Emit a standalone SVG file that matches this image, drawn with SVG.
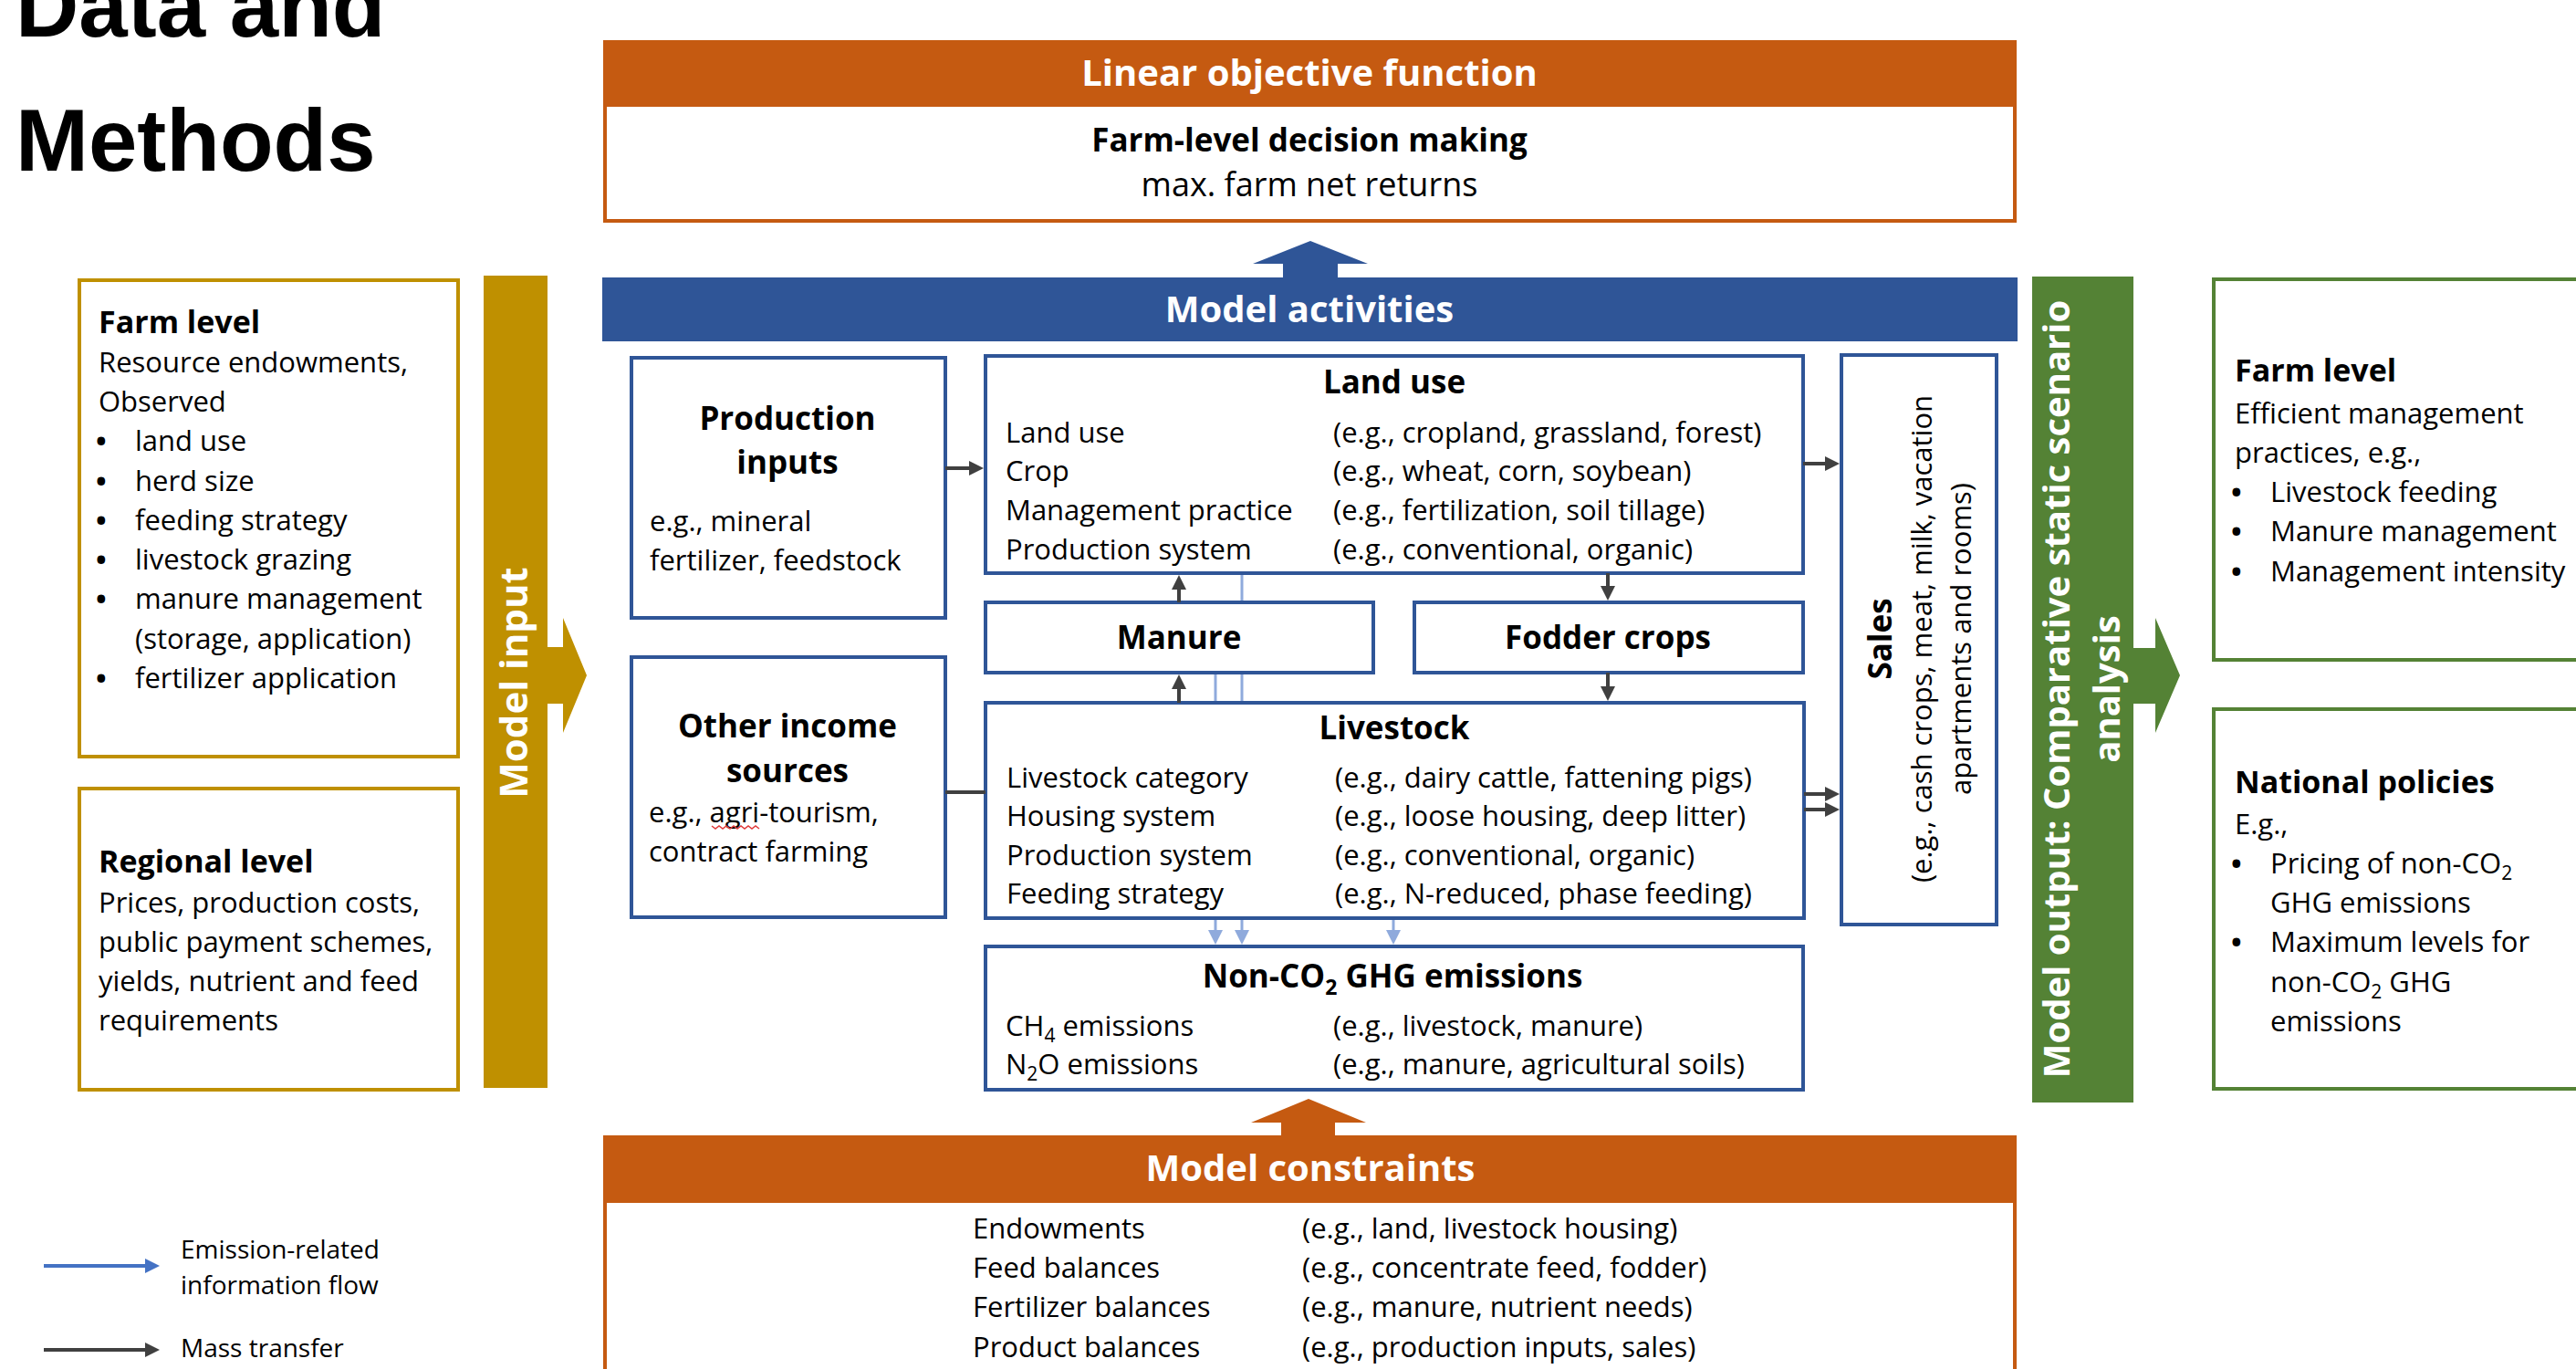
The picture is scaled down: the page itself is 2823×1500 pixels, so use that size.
<svg xmlns="http://www.w3.org/2000/svg" width="2823" height="1500" viewBox="0 0 2823 1500">
<defs>
<style>
text{font-family:"Open Sans","DejaVu Sans",sans-serif;fill:#000;font-size:31px}
.h{font-weight:bold;font-size:35px}
.fh{font-weight:bold;font-size:34px}
.bar{font-weight:bold;font-size:40px;fill:#fff}
.c{text-anchor:middle}
.title{font-family:"Liberation Sans",Arial,sans-serif;font-weight:bold;font-size:96px}
.leg{font-size:28px}
.bu{font-size:31px;font-weight:bold}
.bb{fill:#fff;stroke:#2F5597;stroke-width:4}
.gb{fill:#fff;stroke:#BF9000;stroke-width:4}
.grb{fill:#fff;stroke:#548235;stroke-width:4}
.ob{fill:#fff;stroke:#C55A11;stroke-width:4}
.mass{stroke:#404040;stroke-width:4;fill:none}
.emis{stroke:#8FAADC;stroke-width:3;fill:none}
</style>
<marker id="ah" viewBox="0 0 10 10" refX="5" refY="5" markerWidth="16" markerHeight="18" markerUnits="userSpaceOnUse" orient="auto"><path d="M0,0 L10,5 L0,10 z" fill="#404040"/></marker>
<marker id="eh" viewBox="0 0 10 10" refX="5" refY="5" markerWidth="16" markerHeight="16" markerUnits="userSpaceOnUse" orient="auto"><path d="M0,0 L10,5 L0,10 z" fill="#8FAADC"/></marker>
<marker id="lh" viewBox="0 0 10 10" refX="5" refY="5" markerWidth="16" markerHeight="18" markerUnits="userSpaceOnUse" orient="auto"><path d="M0,0 L10,5 L0,10 z" fill="#4472C4"/></marker>
</defs>
<rect width="2823" height="1500" fill="#fff"/>

<g id="title">
<text class="title" x="17" y="40">Data and</text>
<text class="title" x="17" y="187">Methods</text>
</g>

<g id="farm-level-input">
<rect class="gb" x="87" y="307" width="415" height="522"/>
<text class="fh" x="108" y="365">Farm level</text>
<text x="108" y="408">Resource endowments,</text>
<text x="108" y="451">Observed</text>
<text class="bu" x="105" y="494">•</text><text x="148" y="494">land use</text>
<text class="bu" x="105" y="538">•</text><text x="148" y="538">herd size</text>
<text class="bu" x="105" y="581">•</text><text x="148" y="581">feeding strategy</text>
<text class="bu" x="105" y="624">•</text><text x="148" y="624">livestock grazing</text>
<text class="bu" x="105" y="667">•</text><text x="148" y="667">manure management</text>
<text x="148" y="711">(storage, application)</text>
<text class="bu" x="105" y="754">•</text><text x="148" y="754">fertilizer application</text>
</g>

<g id="regional-level-input">
<rect class="gb" x="87" y="864" width="415" height="330"/>
<text class="fh" x="108" y="956">Regional level</text>
<text x="108" y="1000">Prices, production costs,</text>
<text x="108" y="1043">public payment schemes,</text>
<text x="108" y="1086">yields, nutrient and feed</text>
<text x="108" y="1129">requirements</text>
</g>

<g id="model-input">
<rect x="530" y="302" width="70" height="890" fill="#BF9000"/>
<polygon points="599,709 617,709 617,677 643,740 617,803 617,771 599,771" fill="#BF9000"/>
<text class="bar c" transform="rotate(-90 578 748)" x="578" y="748" style="font-size:42px">Model input</text>
</g>

<g id="objective">
<rect x="661" y="44" width="1549" height="71" fill="#C55A11"/>
<rect class="ob" x="663" y="115" width="1545" height="127"/>
<text class="bar c" x="1435" y="94">Linear objective function</text>
<text class="h c" x="1435" y="166">Farm-level decision making</text>
<text class="c" x="1435" y="215" style="font-size:36px">max. farm net returns</text>
</g>

<g id="model-activities">
<polygon points="1406,306 1406,289 1373,289 1436,264 1499,289 1466,289 1466,306" fill="#2F5597"/>
<rect x="660" y="304" width="1551" height="70" fill="#2F5597"/>
<text class="bar c" x="1435" y="353">Model activities</text>
</g>

<g id="production-inputs">
<rect class="bb" x="692" y="392" width="344" height="285"/>
<text class="h c" x="863" y="471">Production</text>
<text class="h c" x="863" y="519">inputs</text>
<text x="712" y="582">e.g., mineral</text>
<text x="712" y="625">fertilizer, feedstock</text>
</g>

<g id="other-income">
<rect class="bb" x="692" y="720" width="344" height="285"/>
<text class="h c" x="863" y="808">Other income</text>
<text class="h c" x="863" y="857">sources</text>
<text x="711" y="901">e.g., agri-tourism,</text>
<text x="711" y="944">contract farming</text>
<path d="M780,905 l4,3 l4,-3 l4,3 l4,-3 l4,3 l4,-3 l4,3 l4,-3 l4,3 l4,-3 l4,3 l4,-3 l4,3" fill="none" stroke="#E03A3A" stroke-width="1.5"/>
</g>

<g id="land-use">
<rect class="bb" x="1080" y="390" width="896" height="238"/>
<text class="h c" x="1528" y="431">Land use</text>
<text x="1102" y="485">Land use</text><text x="1461" y="485">(e.g., cropland, grassland, forest)</text>
<text x="1102" y="527">Crop</text><text x="1461" y="527">(e.g., wheat, corn, soybean)</text>
<text x="1102" y="570">Management practice</text><text x="1461" y="570">(e.g., fertilization, soil tillage)</text>
<text x="1102" y="613">Production system</text><text x="1461" y="613">(e.g., conventional, organic)</text>
</g>

<g id="manure">
<rect class="bb" x="1080" y="660" width="425" height="77"/>
<text class="h c" x="1292" y="711">Manure</text>
</g>

<g id="fodder-crops">
<rect class="bb" x="1550" y="660" width="426" height="77"/>
<text class="h c" x="1762" y="711">Fodder crops</text>
</g>

<g id="livestock">
<rect class="bb" x="1080" y="770" width="897" height="236"/>
<text class="h c" x="1528" y="810">Livestock</text>
<text x="1103" y="863">Livestock category</text><text x="1463" y="863">(e.g., dairy cattle, fattening pigs)</text>
<text x="1103" y="905">Housing system</text><text x="1463" y="905">(e.g., loose housing, deep litter)</text>
<text x="1103" y="948">Production system</text><text x="1463" y="948">(e.g., conventional, organic)</text>
<text x="1103" y="990">Feeding strategy</text><text x="1463" y="990">(e.g., N-reduced, phase feeding)</text>
</g>

<g id="emissions">
<rect class="bb" x="1080" y="1037" width="896" height="157"/>
<text class="h c" x="1526" y="1082">Non-CO<tspan font-size="23" dy="8">2</tspan><tspan dy="-8"> GHG emissions</tspan></text>
<text x="1102" y="1135">CH<tspan font-size="21" dy="7">4</tspan><tspan dy="-7"> emissions</tspan></text><text x="1461" y="1135">(e.g., livestock, manure)</text>
<text x="1102" y="1177">N<tspan font-size="21" dy="7">2</tspan><tspan dy="-7">O emissions</tspan></text><text x="1461" y="1177">(e.g., manure, agricultural soils)</text>
</g>

<g id="sales">
<rect class="bb" x="2018" y="389" width="170" height="624"/>
<text class="h c" transform="rotate(-90 2073 700)" x="2073" y="700">Sales</text>
<text class="c" transform="rotate(-90 2117 700)" x="2117" y="700">(e.g., cash crops, meat, milk, vacation</text>
<text class="c" transform="rotate(-90 2160 700)" x="2160" y="700">apartments and rooms)</text>
</g>

<g id="model-constraints">
<polygon points="1404,1246 1404,1230 1371,1230 1434,1204 1497,1230 1463,1230 1463,1246" fill="#C55A11"/>
<rect class="ob" x="663" y="1316" width="1545" height="220"/>
<rect x="661" y="1244" width="1549" height="72" fill="#C55A11"/>
<text class="bar c" x="1436" y="1294">Model constraints</text>
<text x="1066" y="1357">Endowments</text><text x="1427" y="1357">(e.g., land, livestock housing)</text>
<text x="1066" y="1400">Feed balances</text><text x="1427" y="1400">(e.g., concentrate feed, fodder)</text>
<text x="1066" y="1443">Fertilizer balances</text><text x="1427" y="1443">(e.g., manure, nutrient needs)</text>
<text x="1066" y="1487">Product balances</text><text x="1427" y="1487">(e.g., production inputs, sales)</text>
</g>

<g id="model-output">
<rect x="2227" y="303" width="111" height="905" fill="#548235"/>
<polygon points="2337,710 2362,710 2362,677 2389,740 2362,803 2362,771 2337,771" fill="#548235"/>
<text class="bar c" transform="rotate(-90 2268 755)" x="2268" y="755">Model output: Comparative static scenario</text>
<text class="bar c" transform="rotate(-90 2323 755)" x="2323" y="755">analysis</text>
</g>

<g id="farm-level-output">
<rect class="grb" x="2426" y="306" width="420" height="417"/>
<text class="fh" x="2449" y="418">Farm level</text>
<text x="2449" y="464">Efficient management</text>
<text x="2449" y="507">practices, e.g.,</text>
<text class="bu" x="2445" y="550">•</text><text x="2488" y="550">Livestock feeding</text>
<text class="bu" x="2445" y="593">•</text><text x="2488" y="593">Manure management</text>
<text class="bu" x="2445" y="637">•</text><text x="2488" y="637">Management intensity</text>
</g>

<g id="national-policies">
<rect class="grb" x="2426" y="777" width="420" height="416"/>
<text class="fh" x="2449" y="869">National policies</text>
<text x="2449" y="914">E.g.,</text>
<text class="bu" x="2445" y="957">•</text><text x="2488" y="957">Pricing of non-CO<tspan font-size="21" dy="7">2</tspan></text>
<text x="2488" y="1000">GHG emissions</text>
<text class="bu" x="2445" y="1043">•</text><text x="2488" y="1043">Maximum levels for</text>
<text x="2488" y="1087">non-CO<tspan font-size="21" dy="7">2</tspan><tspan dy="-7"> GHG</tspan></text>
<text x="2488" y="1130">emissions</text>
</g>

<g id="connectors">
<line class="mass" x1="1036" y1="513" x2="1070" y2="513" marker-end="url(#ah)"/>
<line class="mass" x1="1036" y1="868" x2="1080" y2="868"/>
<line class="mass" x1="1292" y1="660" x2="1292" y2="638" marker-end="url(#ah)"/>
<line class="mass" x1="1292" y1="770" x2="1292" y2="747" marker-end="url(#ah)"/>
<line class="mass" x1="1762" y1="628" x2="1762" y2="650" marker-end="url(#ah)"/>
<line class="mass" x1="1762" y1="737" x2="1762" y2="760" marker-end="url(#ah)"/>
<line class="mass" x1="1976" y1="508" x2="2008" y2="508" marker-end="url(#ah)"/>
<line class="mass" x1="1977" y1="870" x2="2008" y2="870" marker-end="url(#ah)"/>
<line class="mass" x1="1977" y1="887" x2="2008" y2="887" marker-end="url(#ah)"/>
<line class="emis" x1="1361" y1="630" x2="1361" y2="658"/>
<line class="emis" x1="1332" y1="739" x2="1332" y2="768"/>
<line class="emis" x1="1361" y1="739" x2="1361" y2="768"/>
<line class="emis" x1="1332" y1="1008" x2="1332" y2="1027" marker-end="url(#eh)"/>
<line class="emis" x1="1361" y1="1008" x2="1361" y2="1027" marker-end="url(#eh)"/>
<line class="emis" x1="1527" y1="1008" x2="1527" y2="1027" marker-end="url(#eh)"/>
</g>

<g id="legend">
<line x1="48" y1="1387" x2="167" y2="1387" stroke="#4472C4" stroke-width="4" marker-end="url(#lh)"/>
<line x1="48" y1="1479" x2="167" y2="1479" stroke="#404040" stroke-width="4" marker-end="url(#ah)"/>
<text class="leg" x="198" y="1379">Emission-related</text>
<text class="leg" x="198" y="1418">information flow</text>
<text class="leg" x="198" y="1487">Mass transfer</text>
</g>
</svg>
